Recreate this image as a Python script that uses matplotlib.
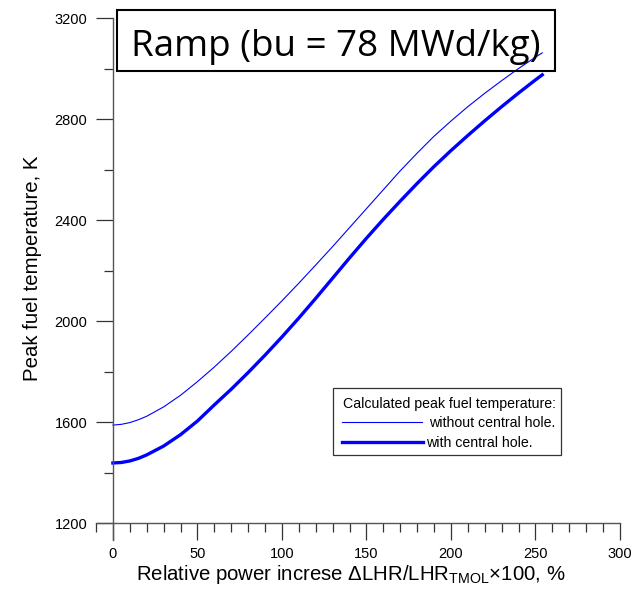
import numpy as np
import matplotlib
matplotlib.use("Agg")
import matplotlib.pyplot as plt
from matplotlib.patches import Rectangle
from matplotlib.lines import Line2D
from matplotlib.ticker import MultipleLocator

plt.rcParams['font.family'] = ['Liberation Sans', 'DejaVu Sans']
plt.rcParams['mathtext.fontset'] = 'custom'
plt.rcParams['mathtext.rm'] = 'Liberation Sans'

# relative power increase, %
x_vals = [0, 5, 10, 15, 20, 30, 40, 50, 60, 70, 80, 90, 100, 110, 120, 130, 140,
          150, 160, 170, 180, 190, 200, 210, 220, 230, 240, 250, 254]
# peak fuel temperature without central hole, K
t_no_hole = [1588, 1591, 1598, 1609, 1623, 1660, 1706, 1760, 1818, 1880, 1945, 2012, 2080,
             2150, 2222, 2295, 2370, 2445, 2520, 2595, 2665, 2732, 2792, 2849,
             2902, 2952, 3000, 3045, 3062]
# peak fuel temperature with central hole, K
t_hole = [1438, 1440, 1446, 1456, 1470, 1505, 1550, 1604, 1668, 1730, 1796, 1865, 1937,
          2012, 2090, 2170, 2250, 2328, 2403, 2475, 2545, 2612, 2675, 2735,
          2793, 2849, 2903, 2955, 2975]

W, H = 642, 590
fig = plt.figure(figsize=(W / 100, H / 100), dpi=100)

def fx(px):
    return px / W

def fy(py):
    return 1 - py / H

ax = fig.add_axes([fx(96), fy(540), fx(620) - fx(96), fy(18) - fy(540)])
ax.plot(x_vals, t_no_hole, color='#0000ff', lw=0.8)
ax.plot(x_vals, t_hole, color='#0000ff', lw=2.4)

ax.set_xlim(-10, 300)
ax.set_ylim(1133, 3200)
ax.spines['left'].set_position(('data', 0))
ax.spines['bottom'].set_position(('data', 1200))
ax.spines['top'].set_visible(False)
ax.spines['right'].set_visible(False)
for s in ('left', 'bottom'):
    ax.spines[s].set_color('#555555')
    ax.spines[s].set_linewidth(1.0)

ax.xaxis.set_minor_locator(MultipleLocator(10))
ax.yaxis.set_minor_locator(MultipleLocator(200))
ax.set_xticks(np.arange(0, 301, 50))
ax.set_yticks(np.arange(1200, 3201, 400))
ax.tick_params(which='major', length=12.5, width=0.9, color='#333333', labelsize=10.5)
ax.tick_params(which='minor', length=6.5, width=0.9, color='#333333')
ax.tick_params(axis='x', which='major', pad=5)
ax.tick_params(axis='y', which='major', pad=6)

fig.text(fx(351), fy(580), 'Relative power increse \u0394LHR/LHR$_{\\mathrm{TMOL}}$\u00d7100, %',
         ha='center', va='baseline', fontsize=14.7)
fig.text(fx(33), fy(268), 'Peak fuel temperature, K', rotation=90,
         ha='center', va='center', fontsize=14.7)

# title box
fig.patches.append(Rectangle((fx(117), fy(71)), fx(555) - fx(117), fy(10) - fy(71),
                             transform=fig.transFigure, fill=False,
                             edgecolor='black', lw=1.5))
fig.text(fx(336), fy(56), 'Ramp (bu = 78 MWd/kg)', family=['Open Sans', 'DejaVu Sans'],
         ha='center', va='baseline', fontsize=26.5)

# legend
fig.patches.append(Rectangle((fx(333), fy(455)), fx(561) - fx(333), fy(388) - fy(455),
                             transform=fig.transFigure, fill=False,
                             edgecolor='#333333', lw=0.9))
fig.text(fx(343), fy(408), 'Calculated peak fuel temperature:', fontsize=10.2, va='baseline')
fig.lines.append(Line2D([fx(342), fx(422)], [fy(422), fy(422)],
                        transform=fig.transFigure, color='#0000ff', lw=0.8))
fig.text(fx(429), fy(427), 'without central hole.', fontsize=10.2, va='baseline')
fig.lines.append(Line2D([fx(342), fx(423)], [fy(442), fy(442)],
                        transform=fig.transFigure, color='#0000ff', lw=2.4))
fig.text(fx(426), fy(447), 'with central hole.', fontsize=10.2, va='baseline')

fig.savefig('out.png', dpi=100)
